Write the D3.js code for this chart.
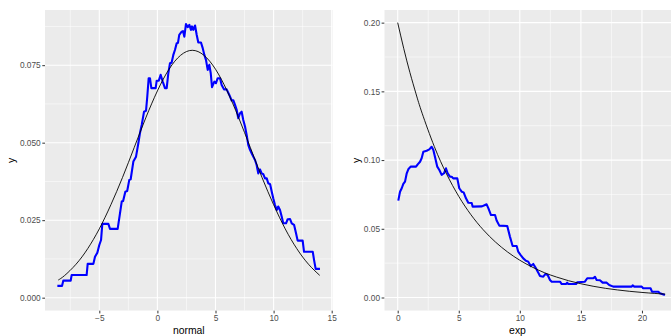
<!DOCTYPE html>
<html><head><meta charset="utf-8">
<script src="https://cdn.jsdelivr.net/npm/d3@7"></script>
<style>html,body{margin:0;padding:0;background:#fff;overflow:hidden}</style>
</head><body>
<script>
// ---- Left panel data (normal) ----
const normTheoX = [-8.53,-8,-7,-6,-5,-4,-3,-2,-1,0,1,2,3,4,5,6,7,8,9,10,11,12,13,13.97];
const normTheoY = [0.0057,0.0071,0.0108,0.0158,0.0222,0.0300,0.0388,0.0484,0.0580,0.0667,0.0737,0.0782,0.0798,0.0782,0.0737,0.0667,0.0580,0.0484,0.0388,0.0300,0.0222,0.0158,0.0108,0.0072];
const normEmpX = [-8.61,-8.21,-8.1,-7.46,-7.38,-6.09,-6.0,-5.51,-5.37,-5.17,-5.0,-4.85,-4.74,-4.22,-4.08,-3.42,-3.22,-3.07,-2.95,-2.76,-2.6,-2.42,-2.3,-2.07,-1.84,-1.64,-1.5,-1.35,-1.15,-0.98,-0.87,-0.75,-0.64,-0.52,-0.15,-0.06,0.12,0.28,0.46,0.65,0.8,0.94,1.08,1.22,1.37,1.51,1.66,1.77,1.88,2.09,2.2,2.32,2.46,2.61,2.75,2.89,2.98,3.09,3.24,3.38,3.52,3.75,3.9,4.04,4.18,4.33,4.47,4.59,4.7,4.9,5.04,5.19,5.39,5.53,5.73,5.96,6.19,6.39,6.53,6.68,6.82,6.96,7.11,7.25,7.39,7.54,7.68,7.82,7.97,8.11,8.25,8.4,8.54,8.68,8.83,8.97,9.12,9.26,9.41,9.54,9.7,9.84,9.97,10.12,10.27,10.4,10.55,10.7,10.83,11.07,11.21,11.41,11.56,11.76,11.93,12.07,12.5,12.62,13.37,13.48,13.62,13.99];
const normEmpY = [0.0038,0.0038,0.0055,0.0055,0.0073,0.0073,0.0109,0.0109,0.0132,0.0145,0.0170,0.0186,0.0238,0.0238,0.0222,0.0222,0.0272,0.0310,0.0312,0.0342,0.0344,0.0380,0.0382,0.0439,0.0455,0.0498,0.0531,0.0557,0.0600,0.0603,0.0649,0.0708,0.0708,0.0676,0.0676,0.0700,0.0700,0.0719,0.0697,0.0676,0.0676,0.0724,0.0756,0.0758,0.0783,0.0799,0.0821,0.0822,0.0848,0.0858,0.0860,0.0842,0.0883,0.0873,0.0880,0.0864,0.0875,0.0864,0.0878,0.0848,0.0823,0.0823,0.0805,0.0783,0.0767,0.0735,0.0751,0.0724,0.0679,0.0697,0.0692,0.0708,0.0708,0.0686,0.0672,0.0672,0.0654,0.0636,0.0637,0.0622,0.0606,0.0579,0.0595,0.0600,0.0573,0.0552,0.0525,0.0493,0.0477,0.0466,0.0455,0.0444,0.0428,0.0401,0.0414,0.0401,0.0398,0.0385,0.0385,0.0369,0.0366,0.0342,0.0321,0.0299,0.0283,0.0294,0.0283,0.0261,0.0240,0.0240,0.0253,0.0254,0.0240,0.0235,0.0208,0.0184,0.0184,0.0148,0.0148,0.0122,0.0093,0.0093];
const normXTicks = [-5,0,5,10,15];
const normXMinor = [-7.5,-2.5,2.5,7.5,12.5];
const normYTicks = [0,0.025,0.05,0.075];
const normYMinor = [0.0125,0.0375,0.0625,0.0875];

// ---- Right panel data (exp) ----
const expTheoX = [0,0.5,1,1.5,2,3,4,5,6,7,8,9,10,11,12,13,14,15,16,17,18,19,20,21,21.9];
const expTheoY = [0.2,0.181,0.1637,0.1482,0.1341,0.1098,0.0899,0.0736,0.0602,0.0493,0.0404,0.0331,0.0271,0.0222,0.0181,0.0149,0.0122,0.0100,0.0082,0.0067,0.0055,0.0045,0.0037,0.0030,0.0025];
const expEmpX = [0.05,0.19,0.33,0.46,0.6,0.74,0.87,1.06,1.5,1.64,1.83,1.96,2.1,2.37,2.59,2.78,2.92,3.05,3.24,3.41,3.6,3.79,3.95,4.09,4.28,4.42,4.55,4.88,5.04,5.24,5.4,5.59,5.78,6.06,6.14,6.9,7.15,7.28,7.42,7.64,7.97,8.1,8.32,8.97,9.19,9.41,9.74,9.87,10.07,10.28,10.5,10.69,10.89,11.1,11.32,11.51,11.65,11.92,12.08,12.28,12.47,12.61,13.29,13.43,13.78,13.88,13.97,14.6,14.71,15.33,15.52,16.01,16.15,16.29,16.56,16.78,17.11,17.32,17.65,19.16,19.24,19.37,19.98,20.1,20.71,20.82,21.34,21.47,21.88];
const expEmpY = [0.0705,0.0770,0.0795,0.0826,0.0843,0.0904,0.0933,0.0952,0.0952,0.0969,0.0988,0.1013,0.1061,0.1068,0.1078,0.1097,0.1073,0.1025,0.0952,0.0928,0.0892,0.0904,0.0940,0.0904,0.0879,0.0879,0.0867,0.0867,0.0795,0.0770,0.0765,0.0722,0.0690,0.0688,0.0661,0.0663,0.0673,0.0678,0.0650,0.0600,0.0600,0.0560,0.0523,0.0520,0.0443,0.0375,0.0375,0.0333,0.0309,0.0285,0.0268,0.0261,0.0229,0.0244,0.0212,0.0181,0.0156,0.0151,0.0171,0.0164,0.0127,0.0115,0.0115,0.0098,0.0098,0.0108,0.0098,0.0098,0.0111,0.0115,0.0140,0.0140,0.0151,0.0127,0.0125,0.0108,0.0108,0.0091,0.0079,0.0079,0.0089,0.0079,0.0079,0.0067,0.0067,0.0042,0.0042,0.0031,0.0018];
const expXTicks = [0,5,10,15,20];
const expXMinor = [2.5,7.5,12.5,17.5,22.5];
const expYTicks = [0,0.05,0.10,0.15,0.20];
const expYMinor = [0.025,0.075,0.125,0.175];

const W = 671, H = 336;
const svg = d3.select("body").append("svg").attr("width", W).attr("height", H)
  .style("font-family", "'Liberation Sans', Arial, sans-serif");

function panel(opt) {
  const x = d3.scaleLinear().domain(opt.xDom).range([opt.left, opt.right]);
  const y = d3.scaleLinear().domain(opt.yDom).range([opt.bottom, opt.top]);
  const clipId = "clip" + opt.id;
  svg.append("clipPath").attr("id", clipId).append("rect")
    .attr("x", opt.left).attr("y", opt.top)
    .attr("width", opt.right - opt.left).attr("height", opt.bottom - opt.top);
  const g = svg.append("g").attr("clip-path", `url(#${clipId})`);
  g.append("rect").attr("x", opt.left).attr("y", opt.top)
    .attr("width", opt.right - opt.left).attr("height", opt.bottom - opt.top)
    .attr("fill", "#EBEBEB");
  // minor grid
  g.selectAll(null).data(opt.xMinor).enter().append("line")
    .attr("x1", d => x(d)).attr("x2", d => x(d)).attr("y1", opt.top).attr("y2", opt.bottom)
    .attr("stroke", "#fff").attr("stroke-width", 0.55);
  g.selectAll(null).data(opt.yMinor).enter().append("line")
    .attr("y1", d => y(d)).attr("y2", d => y(d)).attr("x1", opt.left).attr("x2", opt.right)
    .attr("stroke", "#fff").attr("stroke-width", 0.55);
  // major grid
  g.selectAll(null).data(opt.xTicks).enter().append("line")
    .attr("x1", d => x(d)).attr("x2", d => x(d)).attr("y1", opt.top).attr("y2", opt.bottom)
    .attr("stroke", "#fff").attr("stroke-width", 1.1);
  g.selectAll(null).data(opt.yTicks).enter().append("line")
    .attr("y1", d => y(d)).attr("y2", d => y(d)).attr("x1", opt.left).attr("x2", opt.right)
    .attr("stroke", "#fff").attr("stroke-width", 1.1);
  // lines
  const emp = opt.empX.map((d, i) => [d, opt.empY[i]]);
  const theo = opt.theoX.map((d, i) => [d, opt.theoY[i]]);
  g.append("path").datum(emp)
    .attr("d", d3.line().x(d => x(d[0])).y(d => y(d[1])))
    .attr("fill", "none").attr("stroke", "#0000FF").attr("stroke-width", 2.1)
    .attr("stroke-linejoin", "round");
  g.append("path").datum(theo)
    .attr("d", d3.line().x(d => x(d[0])).y(d => y(d[1])).curve(d3.curveNatural))
    .attr("fill", "none").attr("stroke", "#000").attr("stroke-width", 0.9);

  // axes
  const xa = svg.append("g").attr("transform", `translate(0,${opt.bottom})`)
    .call(d3.axisBottom(x).tickValues(opt.xTicks).tickSize(2.7).tickPadding(2.2)
      .tickFormat(opt.xFmt));
  const ya = svg.append("g").attr("transform", `translate(${opt.left},0)`)
    .call(d3.axisLeft(y).tickValues(opt.yTicks).tickSize(2.7).tickPadding(1.6)
      .tickFormat(opt.yFmt));
  [xa, ya].forEach(a => {
    a.select(".domain").remove();
    a.selectAll(".tick line").attr("stroke", "#333333").attr("stroke-width", 1);
    a.selectAll(".tick text").attr("fill", "#4D4D4D").attr("font-size", 8.3)
      .attr("font-family", "'Liberation Sans', Arial, sans-serif");
  });
  svg.append("text").attr("x", opt.xTitleX).attr("y", 334)
    .attr("text-anchor", "middle").attr("font-size", 10.4).attr("fill", "#000")
    .text(opt.xTitle);
  svg.append("text").attr("transform", `translate(${opt.yTitleX},${(opt.top + opt.bottom) / 2}) rotate(-90)`)
    .attr("text-anchor", "middle").attr("font-size", 10.4).attr("fill", "#000")
    .text("y");
}

panel({
  id: "L", left: 45, right: 332.7, top: 10, bottom: 310.7,
  xDom: [-9.673, 15.086], yDom: [-0.0042, 0.0928],
  xTicks: normXTicks, xMinor: normXMinor, yTicks: normYTicks, yMinor: normYMinor,
  empX: normEmpX, empY: normEmpY, theoX: normTheoX, theoY: normTheoY,
  xFmt: d3.format("d"), yFmt: d3.format(".3f"),
  xTitle: "normal", xTitleX: 188.8, yTitleX: 14.5
});
panel({
  id: "R", left: 384.3, right: 678.6, top: 10, bottom: 310.7,
  xDom: [-1.097, 23.0], yDom: [-0.0096, 0.2092],
  xTicks: expXTicks, xMinor: expXMinor, yTicks: expYTicks, yMinor: expYMinor,
  empX: expEmpX, empY: expEmpY, theoX: expTheoX, theoY: expTheoY,
  xFmt: d3.format("d"), yFmt: d3.format(".2f"),
  xTitle: "exp", xTitleX: 517.5, yTitleX: 359.5
});
</script>
</body></html>
